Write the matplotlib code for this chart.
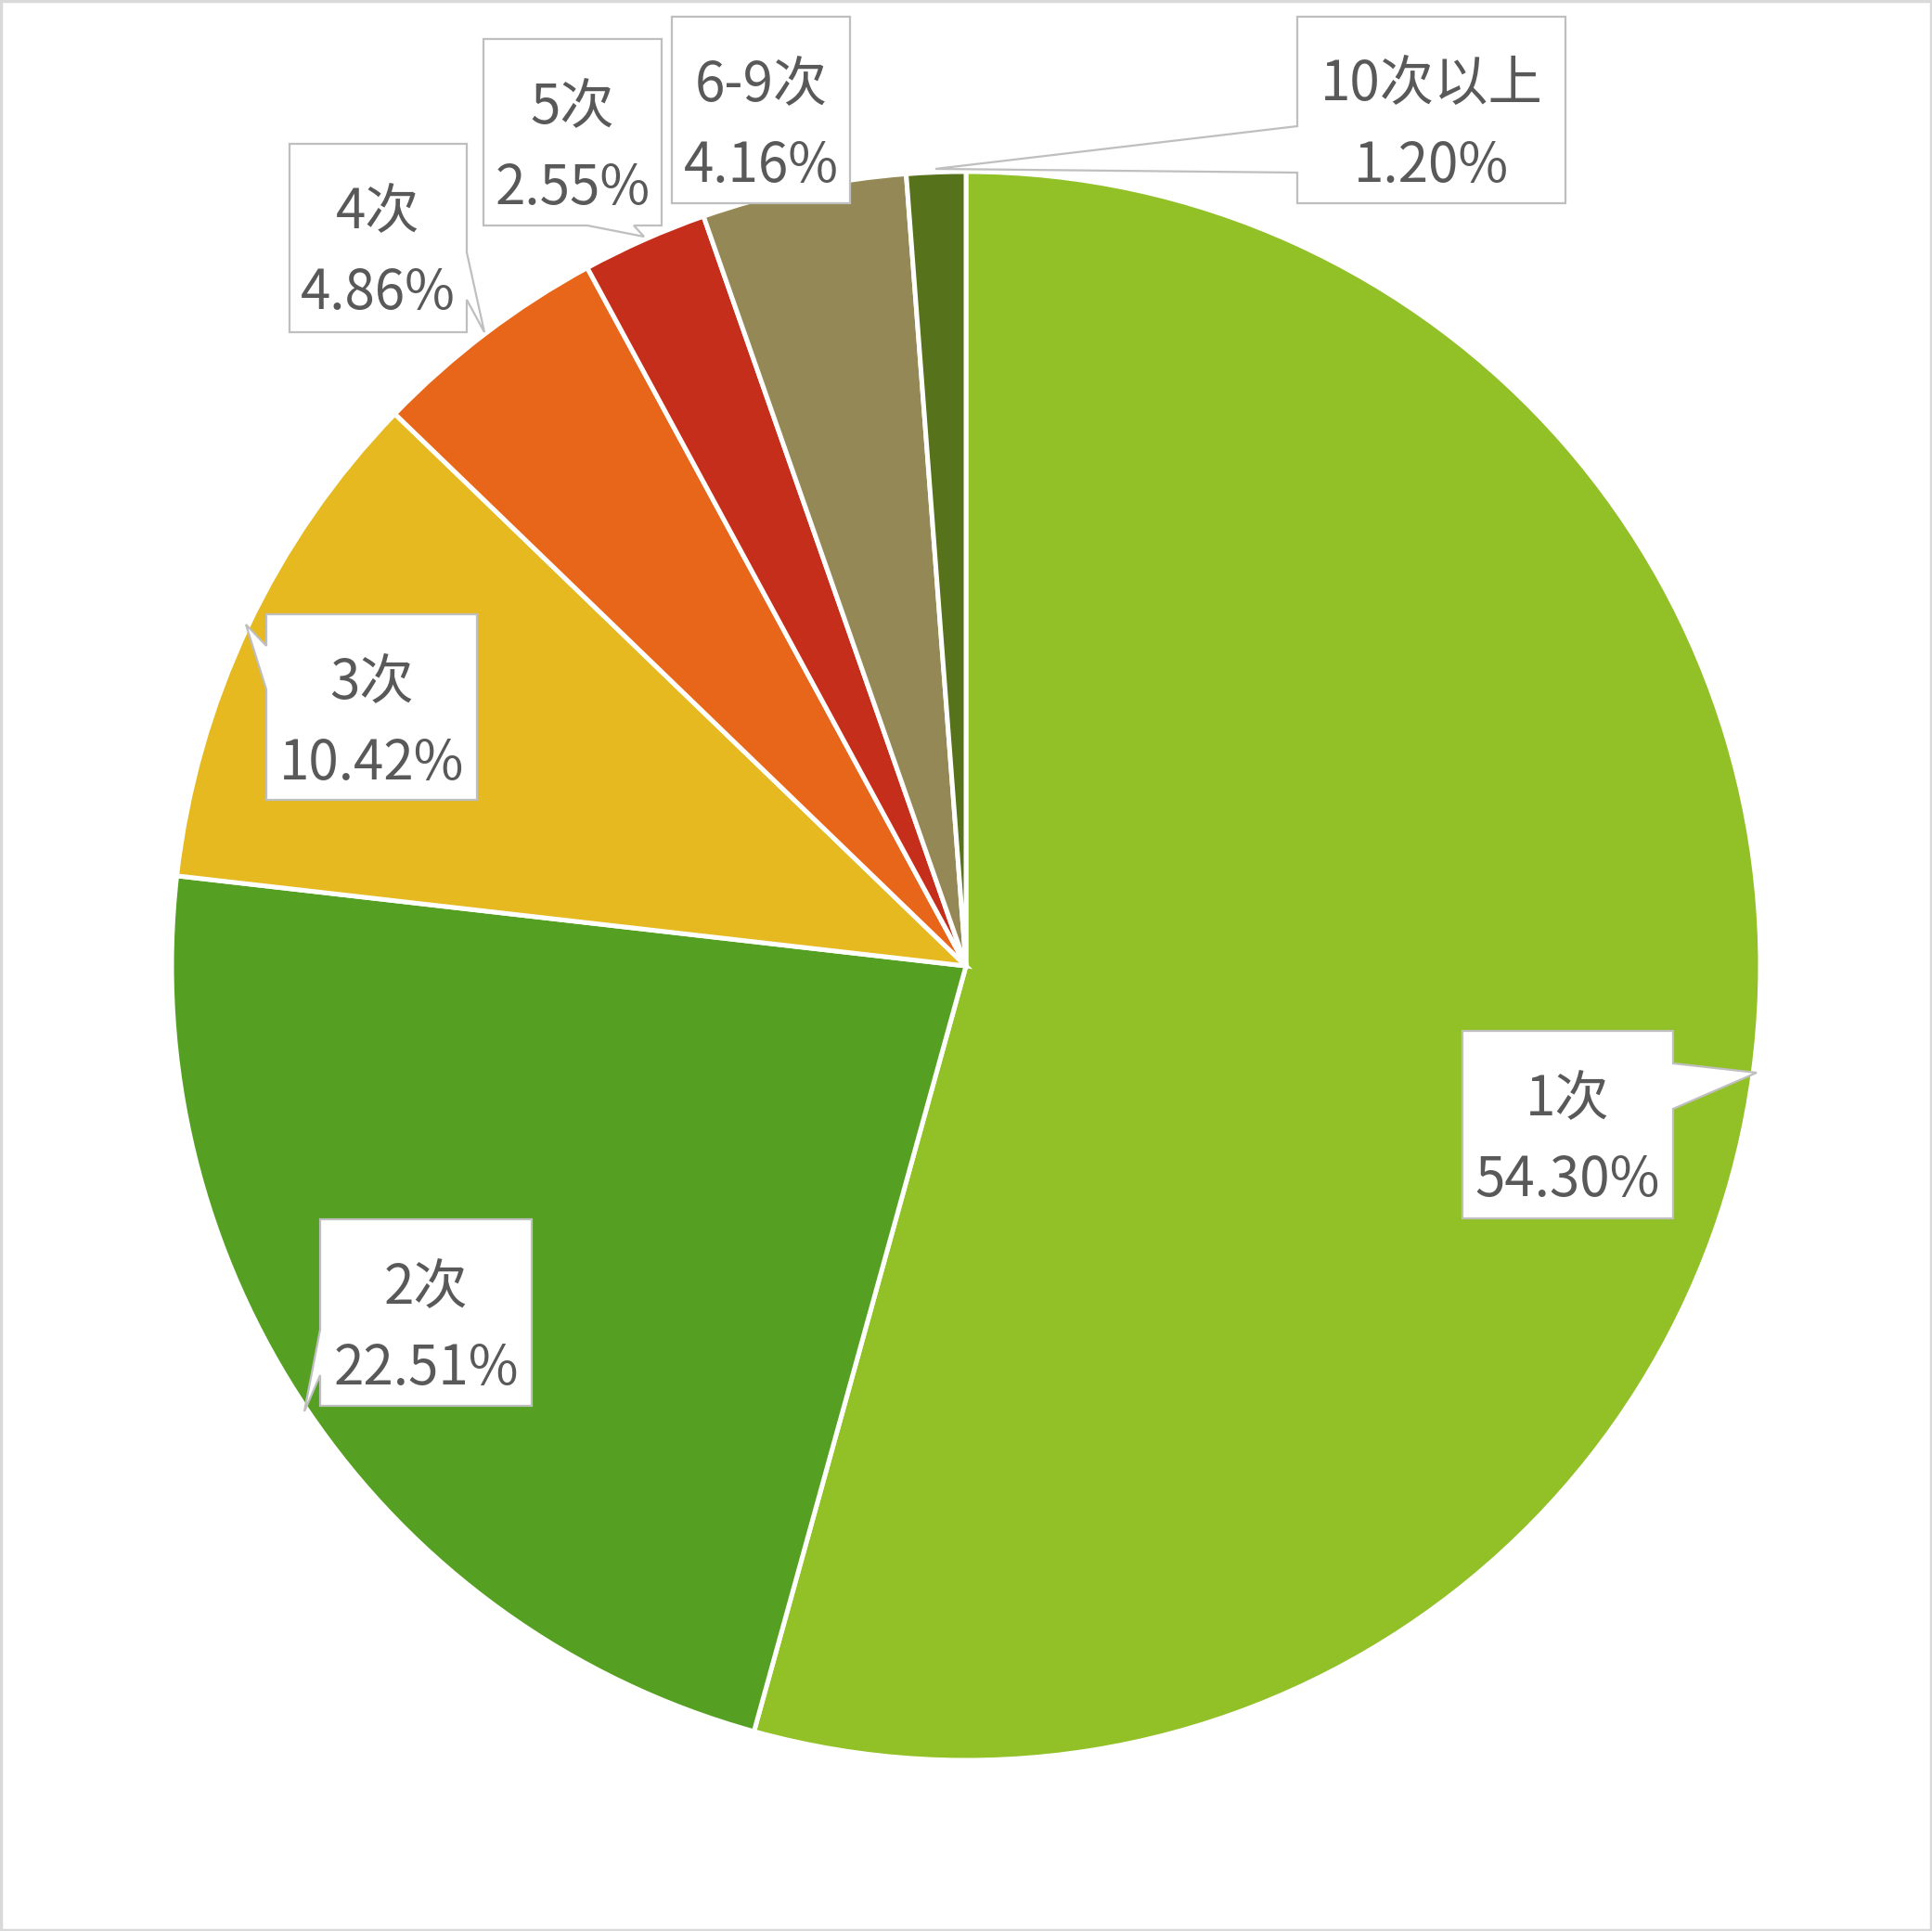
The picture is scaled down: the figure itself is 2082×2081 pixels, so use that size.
import matplotlib
matplotlib.use("Agg")
import matplotlib.pyplot as plt
from matplotlib.patches import Polygon, Rectangle

plt.rcParams['font.family'] = ['Noto Sans CJK SC', 'DejaVu Sans']

# ---- data ----
categories = ['1次', '2次', '3次', '4次', '5次', '6-9次', '10次以上']
values = [54.30, 22.51, 10.42, 4.86, 2.55, 4.16, 1.20]
pct_labels = ['54.30%', '22.51%', '10.42%', '4.86%', '2.55%', '4.16%', '1.20%']
colors = ['#92C127', '#55A022', '#E5B91F', '#E8661A', '#C42E1A', '#938856', '#56721A']

W, H = 2082, 2081
fig = plt.figure(figsize=(W / 100, H / 100), dpi=100)
ax = fig.add_axes([0, 0, 1, 1])

ax.pie(values, colors=colors, startangle=90, counterclock=False,
       center=(1041, H - 1041), radius=856,
       wedgeprops=dict(edgecolor='white', linewidth=3.6))
ax.set_xlim(0, W)
ax.set_ylim(0, H)
ax.set_aspect('auto')
ax.axis('off')

def P(x, y):
    return (x, H - y)

# label boxes: (left, top, right, bottom), pointer (edge, base1, base2, tip) in pixel coords (top-down)
boxes = [
    ((1576, 1111, 1803, 1313), ('right', (1803, 1146), (1803, 1195), (1893, 1156))),
    ((345, 1314, 573, 1515), ('left', (345, 1482), (345, 1433), (328, 1521))),
    ((287, 662, 514, 862), ('left', (287, 743), (287, 696), (265, 673))),
    ((312, 155, 503, 358), ('right', (503, 272), (503, 323), (522, 358))),
    ((521, 42, 713, 243), ('bottom', (683, 243), (633, 243), (694, 255))),
    ((724, 18, 916, 219), None),
    ((1398, 18, 1687, 219), ('left', (1398, 186), (1398, 136), (1008, 182))),
]

for i, ((l, t, r, b), ptr) in enumerate(boxes):
    verts = [(l, t), (r, t)]
    if ptr and ptr[0] == 'right':
        verts += [ptr[1], ptr[3], ptr[2]]
    verts.append((r, b))
    if ptr and ptr[0] == 'bottom':
        verts += [ptr[1], ptr[3], ptr[2]]
    verts.append((l, b))
    if ptr and ptr[0] == 'left':
        verts += [ptr[1], ptr[3], ptr[2]]
    poly = Polygon([P(x, y) for x, y in verts], closed=True, facecolor='white',
                   edgecolor='#BFBFBF', linewidth=1.6, joinstyle='miter', zorder=5)
    ax.add_patch(poly)
    cx = (l + r) / 2
    ax.text(*P(cx, t + 90), categories[i], ha='center', va='baseline',
            fontsize=42, color='#595959', zorder=6)
    ax.text(*P(cx, t + 178), pct_labels[i], ha='center', va='baseline',
            fontsize=42, color='#595959', zorder=6)

# outer frame
fig.patches.append(Rectangle((0.0005, 0.0005), 0.999, 0.999, transform=fig.transFigure,
                             fill=False, edgecolor='#D9D9D9', linewidth=2.5))

fig.savefig('out.png', dpi=100)
